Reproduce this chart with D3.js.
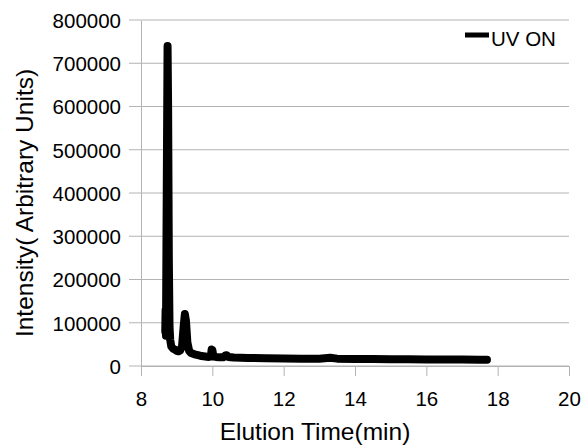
<!DOCTYPE html>
<html>
<head>
<meta charset="utf-8">
<script src="https://cdn.jsdelivr.net/npm/d3@7"></script>
<style>
  body { margin: 0; background: #fff; }
  svg { display: block; font-family: "Liberation Sans", Arial, sans-serif; }
</style>
</head>
<body>
<div id="chart"></div>
<script>
// elution time (min) and intensity
var times = [8.68, 8.69, 8.70, 8.715, 8.73, 8.745, 8.76, 8.78, 8.80, 8.82, 8.85, 8.90, 8.95, 9.00, 9.05, 9.10, 9.15, 9.20, 9.23, 9.26, 9.30, 9.35, 9.40, 9.50, 9.60, 9.70, 9.80, 9.90, 9.96, 9.98, 10.00, 10.03, 10.10, 10.20, 10.30, 10.36, 10.40, 10.45, 10.60, 10.80, 11.00, 11.50, 12.00, 12.50, 13.00, 13.30, 13.50, 14.00, 14.50, 15.00, 15.50, 16.00, 16.50, 17.00, 17.50, 17.70];
var intensity = [80000, 130000, 70000, 300000, 520000, 740000, 600000, 250000, 90000, 60000, 45000, 40000, 38000, 35000, 34000, 36000, 45000, 95000, 120000, 105000, 55000, 35000, 30000, 27000, 25000, 23000, 22000, 21000, 22000, 38000, 37000, 22000, 21000, 20000, 20000, 24000, 25000, 21000, 19500, 19000, 18500, 18000, 17500, 17000, 17000, 19000, 17000, 16000, 16000, 15500, 15500, 15000, 15000, 15000, 14500, 14500];
var xTicks = [8, 10, 12, 14, 16, 18, 20];
var yTicks = [0, 100000, 200000, 300000, 400000, 500000, 600000, 700000, 800000];
var seriesName = "UV ON";

function drawChart() {
	var width = 584, height = 445,
		pl = 141, pr = 569, pt = 20, pb = 366,
		grid = "#b3b3b3",
		font = "Liberation Sans, Arial, sans-serif";

	var data = times.map(function(t, i) { return {t: t, v: intensity[i]}; });

	var svg = d3.select("#chart").append("svg")
		.attr("width", width)
		.attr("height", height);

	var x = d3.scaleLinear().domain([8, 20]).range([pl, pr]);
	var y = d3.scaleLinear().domain([0, 800000]).range([pb, pt]);

	// horizontal gridlines (they run out past the axis as tick marks)
	svg.append("g")
		.selectAll("line")
		.data(yTicks)
		.join("line")
		.attr("x1", pl - 12)
		.attr("x2", pr)
		.attr("y1", function(d) { return y(d); })
		.attr("y2", function(d) { return y(d); })
		.attr("stroke", grid)
		.attr("stroke-width", 1);

	// y axis
	var yAxis = svg.append("g")
		.attr("transform", "translate(" + pl + ",0)")
		.call(d3.axisLeft(y).tickValues(yTicks).tickSize(0).tickPadding(20).tickFormat(d3.format("d")));
	yAxis.select(".domain").attr("stroke", grid);
	yAxis.selectAll("text")
		.attr("font-size", 20.5)
		.attr("fill", "#000")
		.attr("font-family", font)
		.attr("dy", "0.36em");

	// x axis
	var xAxis = svg.append("g")
		.attr("transform", "translate(0," + pb + ")")
		.call(d3.axisBottom(x).tickValues(xTicks).tickSize(10).tickPadding(0).tickSizeOuter(0));
	xAxis.select(".domain").attr("stroke", grid);
	xAxis.selectAll("line").attr("stroke", grid);
	xAxis.selectAll("text")
		.attr("font-size", 20.5)
		.attr("fill", "#000")
		.attr("font-family", font)
		.attr("y", 40)
		.attr("dy", 0);

	// trace
	var line = d3.line()
		.x(function(d) { return x(d.t); })
		.y(function(d) { return y(d.v); });

	svg.append("path")
		.datum(data)
		.attr("d", line)
		.attr("fill", "none")
		.attr("stroke", "#000")
		.attr("stroke-width", 8)
		.attr("stroke-linejoin", "round")
		.attr("stroke-linecap", "round");

	// legend
	svg.append("line")
		.attr("x1", 465).attr("x2", 489)
		.attr("y1", 35).attr("y2", 35)
		.attr("stroke", "#000")
		.attr("stroke-width", 5);
	svg.append("text")
		.attr("x", 491).attr("y", 46)
		.attr("font-size", 20.5)
		.text(seriesName);

	// axis titles
	svg.append("text")
		.attr("x", 315)
		.attr("y", 440)
		.attr("text-anchor", "middle")
		.attr("font-size", 24.5)
		.text("Elution Time(min)");

	svg.append("text")
		.attr("transform", "translate(33,203) rotate(-90)")
		.attr("text-anchor", "middle")
		.attr("font-size", 24.5)
		.text("Intensity( Arbitrary Units)");
}

drawChart();
</script>
</body>
</html>
